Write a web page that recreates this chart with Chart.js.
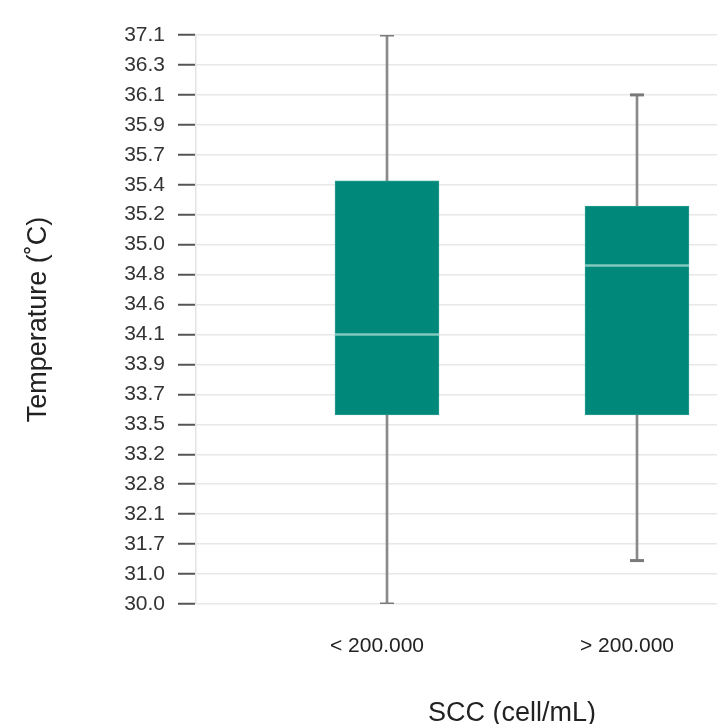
<!DOCTYPE html>
<html>
<head>
<meta charset="utf-8">
<script src="https://cdn.jsdelivr.net/npm/chart.js@4"></script>
<style>
  html, body { margin: 0; padding: 0; background: #fff; overflow: hidden; }
  #wrap { width: 830px; height: 724px; }
</style>
</head>
<body>
<div id="wrap"><canvas id="myChart" width="830" height="724"></canvas></div>
<script>
const ctx = document.getElementById('myChart');

// categories on the x axis
const categories = ['< 200.000', '> 200.000'];
// y tick labels, top to bottom (the axis is categorical: evenly spaced)
const yLabels = ['37.1', '36.3', '36.1', '35.9', '35.7', '35.4', '35.2', '35.0', '34.8', '34.6',
                 '34.1', '33.9', '33.7', '33.5', '33.2', '32.8', '32.1', '31.7', '31.0', '30.0'];
// box stats, as positions on that axis (0 = 30.0 ... 19 = 37.1)
const whiskerLow  = [0, 1.45];
const q1          = [6.31, 6.31];
const median      = [9, 11.3];
const q3          = [14.13, 13.29];
const whiskerHigh = [19, 17];

const lastIdx = yLabels.length - 1;
const xs = categories.map((c, i) => i);

Chart.defaults.font.family = '"Liberation Sans", Arial, sans-serif';
Chart.defaults.color = '#333';

new Chart(ctx, {
    type: 'bar',
    data: {
        datasets: [{
            // whisker line, min to max, behind the box
            data: xs.map(i => ({x: i, y: [whiskerLow[i], whiskerHigh[i]]})),
            backgroundColor: '#8a8a8a',
            barThickness: 2,
            grouped: false,
            order: 3
        }, {
            data: xs.map(i => ({x: i, y: [q1[i], q3[i]]})),
            backgroundColor: '#00897b',
            borderColor: '#2b9d8f',
            borderWidth: 1,
            borderSkipped: false,
            barThickness: 104,
            grouped: false,
            order: 2
        }, {
            type: 'scatter',
            data: xs.flatMap(i => [{x: i, y: whiskerLow[i]}, {x: i, y: whiskerHigh[i]}]),
            pointStyle: 'line',
            radius: 7,
            borderWidth: 3,
            borderColor: '#7a7a7a',
            order: 1
        }, {
            type: 'scatter',
            data: xs.map(i => ({x: i, y: median[i]})),
            pointStyle: 'line',
            radius: 52,
            borderWidth: 2.5,
            borderColor: '#80c9bc',
            order: 0
        }]
    },
    options: {
        responsive: false,
        animation: false,
        layout: {
            autoPadding: false,
            padding: {top: 35, right: 2, left: 0, bottom: 0}
        },
        scales: {
            x: {
                type: 'linear',
                offset: false,
                min: -0.764,
                max: 1.764,
                afterBuildTicks: (scale) => { scale.ticks = xs.map(v => ({value: v})); },
                afterFit: (scale) => { scale.height = 120; },
                grid: {display: false},
                border: {display: false},
                ticks: {
                    padding: 22,
                    labelOffset: -10,
                    color: '#222',
                    font: {size: 21},
                    callback: (v) => categories[v]
                },
                title: {
                    display: true,
                    text: 'SCC (cell/mL)',
                    color: '#222',
                    font: {size: 27, lineHeight: 1},
                    padding: {top: 0, bottom: -3}
                }
            },
            y: {
                type: 'linear',
                min: 0,
                max: lastIdx,
                afterFit: (scale) => { scale.width = 196; },
                ticks: {
                    stepSize: 1,
                    padding: 13,
                    color: '#333',
                    font: {size: 21},
                    callback: (v) => yLabels[lastIdx - v]
                },
                grid: {
                    color: '#e8e8e8',
                    lineWidth: 1.5,
                    tickColor: '#555',
                    tickWidth: 2,
                    tickLength: 18
                },
                border: {color: '#e4e4e4', width: 1.5},
                title: {
                    display: true,
                    text: 'Temperature (˚C)',
                    color: '#222',
                    font: {size: 27, lineHeight: 1.2},
                    padding: {top: 22, bottom: 0}
                }
            }
        },
        plugins: {
            legend: {display: false},
            tooltip: {enabled: false}
        }
    }
});
</script>
</body>
</html>
